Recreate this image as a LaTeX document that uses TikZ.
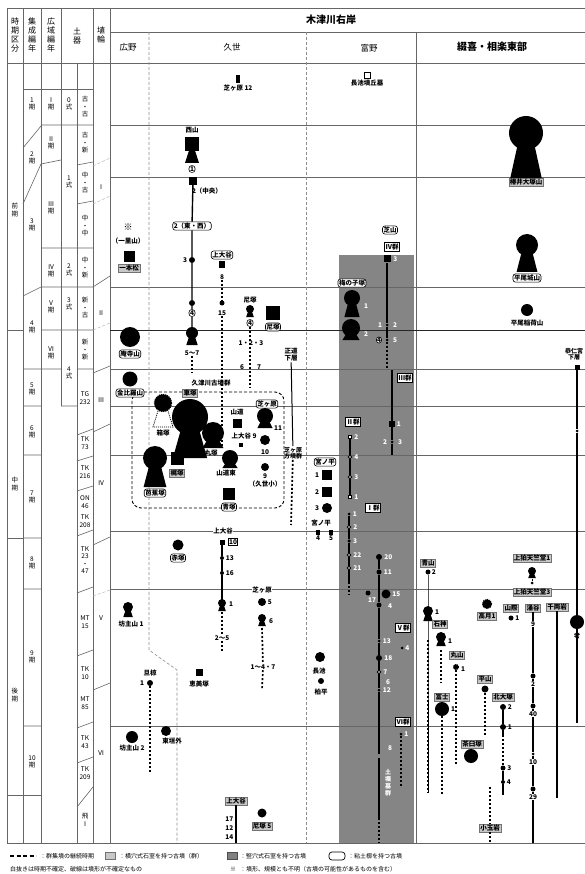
\documentclass[tikz,border=0pt]{standalone}
\usepackage{fontspec}
\setmainfont{Noto Sans CJK JP}
\usetikzlibrary{positioning}

\begin{document}
\begin{tikzpicture}[x=1pt, y=-1pt,
    rule/.style={draw=black!60, line width=0.6pt},
    era/.style={draw=black!85, line width=1pt},
    border/.style={draw=black!45, line width=0.6pt, dash pattern=on 3pt off 2pt},
    soft/.style={draw=black!30, line width=0.5pt, dash pattern=on 3pt off 2pt},
    grp/.style={line width=0.9pt, dash pattern=on 3pt off 2pt, rounded corners=9pt},
    head/.style={font=\fontsize{8.5}{9}\selectfont, inner sep=0pt},
    bighead/.style={font=\fontsize{10}{11}\selectfont\bfseries, inner sep=0pt},
    hdv/.style={font=\fontsize{8}{9}\selectfont, align=center, inner sep=0pt},
    vtext/.style={font=\fontsize{6.5}{7.5}\selectfont, align=center, inner sep=0pt},
    lbl/.style={font=\fontsize{6.5}{7}\selectfont\bfseries, inner sep=0.5pt},
    wlbl/.style={lbl, text=white},
    note/.style={font=\fontsize{6}{7}\selectfont, inner sep=0pt, anchor=west},
    clay/.style={lbl, draw, rounded corners=2.5pt, fill=white, inner sep=1pt, line width=0.6pt},
    yoko/.style={lbl, draw=black!55, fill=black!22, inner sep=1pt},
    gun/.style={lbl, draw, fill=white, line width=0.8pt, inner sep=1.2pt},
    enpun/.style={circle, fill, inner sep=0pt, minimum size=#1},
    enpun/.default=4pt,
    hofun/.style={rectangle, fill, inner sep=0pt, minimum size=#1},
    hofun/.default=4pt,
    oen/.style={circle, draw, fill=white, inner sep=0pt, minimum size=3.5pt, line width=0.8pt},
    oho/.style={rectangle, draw, fill=white, inner sep=0pt, minimum size=3.5pt, line width=0.8pt},
    fuzzy/.style={circle, fill, draw, line width=1.2pt, dash pattern=on 1.2pt off 0.8pt, inner sep=0pt, minimum size=#1},
    seq/.style={line width=1.4pt},
    gap/.style={line width=1.7pt, dash pattern=on 2pt off 2pt},
    pics/zenpo/.style 2 args={code={
        \fill (0,0) circle[radius=#1];
        \fill (-0.45*#1,0.5*#1) -- (0.45*#1,0.5*#1) -- (0.95*#1,#2) -- (-0.95*#1,#2) -- cycle;
    }},
    pics/zenpoho/.style 2 args={code={
        \fill (-#1,-#1) rectangle (#1,#1);
        \fill (-0.45*#1,#1) -- (0.45*#1,#1) -- (#1,#2) -- (-#1,#2) -- cycle;
    }}
]
\useasboundingbox (0,0) rectangle (585,874);

% Stone chamber band (Tonosho)
\fill[black!48] (339,255) rectangle (414,843);

% Frame and rules
\draw[rule] (7,8) -- (585,8) (110,32) -- (585,32) (7,63) -- (585,63) (7,843) -- (585,843);
\draw[rule] (7,8) -- (7,843) (23,8) -- (23,843) (41,8) -- (41,843) (61,8) -- (61,406) (77,63) -- (77,843)
  (93,8) -- (93,843) (110,8) -- (110,843) (416,32) -- (416,843);
\draw[rule] (110,125) -- (585,125) (110,177) -- (585,177) (110,287) -- (585,287) (110,369) -- (585,369)
  (110,406) -- (585,406) (110,455) -- (585,455) (110,531) -- (585,531) (110,589) -- (585,589) (110,726) -- (585,726);
\draw[era] (110,330) -- (585,330);

% Period cells
\draw[rule] (23,89) -- (93,89) (7,330) -- (23,330) (7,538) -- (23,538) (7,795) -- (41,795);
\draw[rule] (23,148) -- (41,126) (23,204) -- (41,164) (23,296) -- (41,287) (23,369) -- (41,369) (23,406) -- (41,406)
  (23,455) -- (41,455) (23,538) -- (41,538) (23,589) -- (41,589) (23,726) -- (41,726);
\draw[rule] (41,125) -- (93,125) (41,164) -- (61,160) (77,165) -- (93,162) (77,204) -- (93,201) (41,248) -- (93,248)
  (41,287) -- (93,287) (41,330) -- (93,330) (41,369) -- (61,369) (77,369) -- (93,369) (61,406) -- (77,406);
\draw[rule] (77,435) -- (93,429) (77,461) -- (93,456) (77,491) -- (93,486) (77,536) -- (93,530) (77,593) -- (93,587)
  (77,656) -- (93,650) (77,728) -- (93,722) (77,763) -- (93,757) (77,807) -- (93,787);
\draw[rule] (93,287) -- (110,276) (93,373) -- (110,366) (93,432) -- (110,424) (93,545) -- (110,537) (93,690) -- (110,683);
\draw[soft] (93,166) -- (110,158) (93,204) -- (110,196) (93,330) -- (110,323) (93,596) -- (110,590);

% Area borders
\draw[border] (149,32) -- (149,650) -- (177,670) -- (177,843);
\draw[border] (306,32) -- (306,843);

% Headers
\node[hdv] (hdjiki) at (15,35) {時\\期\\区\\分};
\node[hdv] (hdshusei) at (32,35) {集\\成\\編\\年};
\node[hdv] (hdkoiki) at (51,35) {広\\域\\編\\年};
\node[hdv] (hddoki) at (77,36) {土\\器};
\node[hdv] (hdhaniwa) at (101,35) {埴\\輪};
\node[bighead] (kizu) at (331,20) {木津川右岸};
\node[head] (hirono) at (128,47) {広野};
\node[head] (kuze) at (232,47) {久世};
\node[head] (tonosho) at (369,48) {富野};
\node[bighead] (tsuzuki) at (492,47) {綴喜・相楽東部};

% Period labels
\node[vtext] (zenki) at (15,210) {前\\期};
\node[vtext] (chuki) at (15,484) {中\\期};
\node[vtext] (koki) at (15,695) {後\\期};
\node[vtext] (s1) at (32,104) {1\\期};
\node[vtext] (s2) at (32,158) {2\\期};
\node[vtext] (s3) at (32,225) {3\\期};
\node[vtext] (s4) at (32,327) {4\\期};
\node[vtext] (s5) at (32,389) {5\\期};
\node[vtext] (s6) at (32,432) {6\\期};
\node[vtext] (s7) at (32,497) {7\\期};
\node[vtext] (s8) at (32,563) {8\\期};
\node[vtext] (s9) at (32,657) {9\\期};
\node[vtext] (s10) at (32,762) {10\\期};
\node[vtext] (k1) at (51,104) {Ⅰ\\期};
\node[vtext] (k2) at (51,143) {Ⅱ\\期};
\node[vtext] (k3) at (51,208) {Ⅲ\\期};
\node[vtext] (k4) at (51,271) {Ⅳ\\期};
\node[vtext] (k5) at (51,307) {Ⅴ\\期};
\node[vtext] (k6) at (51,353) {Ⅵ\\期};
\node[vtext] (d0) at (69,104) {0\\式};
\node[vtext] (d1) at (69,182) {1\\式};
\node[vtext] (d2) at (69,270) {2\\式};
\node[vtext] (d3) at (69,304) {3\\式};
\node[vtext] (d4) at (69,373) {4\\式};
\node[vtext] (fk) at (85,107) {古\\・\\古};
\node[vtext] (fs) at (85,143) {古\\・\\新};
\node[vtext] (nf) at (85,183) {中\\・\\古};
\node[vtext] (nn) at (85,226) {中\\・\\中};
\node[vtext] (ns) at (85,268) {中\\・\\新};
\node[vtext] (sf) at (85,308) {新\\・\\古};
\node[vtext] (ss) at (85,350) {新\\・\\新};
\node[vtext] (tg232) at (85,398) {TG\\232};
\node[vtext] (tk73) at (85,443) {TK\\73};
\node[vtext] (tk216) at (85,472) {TK\\216};
\node[vtext] (on46) at (85,502) {ON\\46};
\node[vtext] (tk208) at (85,521) {TK\\208};
\node[vtext] (tk23) at (85,560) {TK\\23\\・\\47};
\node[vtext] (mt15) at (85,622) {MT\\15};
\node[vtext] (tk10) at (85,673) {TK\\10};
\node[vtext] (mt85) at (85,703) {MT\\85};
\node[vtext] (tk43) at (85,742) {TK\\43};
\node[vtext] (tk209) at (85,773) {TK\\209};
\node[vtext] (asuka) at (85,820) {飛\\Ⅰ};
\node[vtext] (h1) at (101,187) {Ⅰ};
\node[vtext] (h2) at (101,313) {Ⅱ};
\node[vtext] (h3) at (101,400) {Ⅲ};
\node[vtext] (h4) at (101,483) {Ⅳ};
\node[vtext] (h5) at (101,618) {Ⅴ};
\node[vtext] (h6) at (101,753) {Ⅵ};

% Hirono
\node[lbl, font=\fontsize{9}{9}\selectfont] (kome) at (128,227) {※};
\node[lbl] (ichiri) at (128,241) {（一里山）};
\node[hofun=11pt] (ippon) at (129,257) {};
\node[yoko] (ipponn) at (129,268) {一本松};
\node[enpun=20pt] (anji) at (130,337) {};
\node[clay] (anjin) at (130,354) {庵寺山};
\node[enpun=15pt] (kanpira) at (130,379) {};
\coordinate (bozu1) at (128,607);
\pic at (bozu1) {zenpo={5}{10}};
\node[lbl] (bozu1n) at (131,624) {坊主山 1};
\node[lbl] (akumu) at (150,673) {旦椋};
\node[enpun=6pt] (akumu1) at (150,683) {};
\node[lbl, left=2pt of akumu1] (akumu1n) {1};
\coordinate (akumuend) at (150,772);
\node[enpun=12pt] (bozu2) at (132,737) {};
\node[lbl] (bozu2n) at (132,748) {坊主山 2};
\node[enpun=10pt] (higashi) at (166,731) {};
\node[lbl] (higashin) at (172,741) {東垣外};

% Kuze
\node[hofun, minimum width=4pt, minimum height=8pt] (shiba12) at (238,79) {};
\node[lbl, below=1pt of shiba12] (shiba12n) {芝ヶ原 12};
\node[lbl] (nishiyama) at (192,130) {西山};
\coordinate (nishiyamak) at (192,144);
\pic at (nishiyamak) {zenpoho={7}{19}};
\node[clay] (ks1) at (192,169) {1};
\node[hofun, minimum width=8pt, minimum height=8pt] (ks2) at (193,181) {};
\node[lbl] (ks2n) at (207,191) {2（中央）};
\node[clay] (ks2ew) at (192,226) {2（東・西）};
\node[enpun=6pt] (ks3) at (192,260) {};
\node[lbl, left=1pt of ks3] (ks3n) {3};
\node[enpun=6pt] (ks4) at (192,303) {};
\node[clay] (ks4n) at (192,313) {4};
\coordinate (ks57) at (192,333);
\pic at (ks57) {zenpo={6}{12}};
\node[lbl] (ks57n) at (192,353) {5～7};
\coordinate (ks57end) at (192,373);
\node[clay] (kamio) at (222,255) {上大谷};
\node[hofun, minimum width=6pt, minimum height=7pt] (kamio8) at (222,265) {};
\node[lbl] (kamio8n) at (222,277) {8};
\node[enpun=5pt] (kamio15) at (222,303) {};
\node[lbl] (kamio15n) at (222,313) {15};
\coordinate (kamio15end) at (222,447);
\node[lbl] (amazuka) at (250,300) {尼塚};
\coordinate (ama4) at (250,309);
\pic at (ama4) {zenpo={4}{8}};
\node[clay] (ama4n) at (250,323) {4};
\coordinate (amaend) at (250,387);
\node[hofun=14pt] (amasq) at (273,313) {};
\node[clay] (amasqn) at (273,327) {尼塚};
\node[lbl] (ama123) at (251,343) {1・2・3};
\node[lbl] (ama6) at (242,367) {6};
\node[lbl] (ama7) at (259,367) {7};
\node[lbl, align=center] (shodo) at (291,355) {正道\\下層};
\node[lbl, align=center, font=\fontsize{6}{6.5}\selectfont\bfseries] (shibaho) at (293,453) {芝ヶ原\\方墳群};
\coordinate (shodoend) at (291,525);

% Kutsukawa group
\draw[grp] (132,392) rectangle (284,508);
\node[clay] (kanpiran) at (130,393) {金比羅山};
\node[lbl] (kutsu) at (211,383) {久津川古墳群};
\node[yoko] (kurumazukan) at (190,393) {車塚};
\node[fuzzy=17pt] (hakozuka) at (163,403) {};
\draw[line width=0.8pt, dash pattern=on 1pt off 1pt] (158,411) -- (153,427) -- (173,427) -- (168,411);
\node[lbl] (hakozukan) at (163,433) {箱塚};
\coordinate (kurumazuka) at (190,417);
\pic at (kurumazuka) {zenpo={18}{41}};
\coordinate (maruzuka) at (213,433);
\pic at (maruzuka) {zenpo={11}{15}};
\node[lbl] (maruzukan) at (211,453) {丸塚};
\node[lbl] (sando) at (237,412) {山道};
\node[hofun=9pt] (sandosq) at (237,423) {};
\node[lbl] (kamio9) at (244,436) {上大谷 9};
\node[hofun=4pt] (kamio9sq) at (241,445) {};
\node[clay] (shibagahara) at (267,404) {芝ヶ原};
\coordinate (shiba11) at (265,416);
\pic at (shiba11) {zenpo={8}{12}};
\node[lbl] (shiba11n) at (278,428) {11};
\node[enpun=10pt] (shiba10) at (265,440) {};
\node[lbl] (shiba10n) at (265,452) {10};
\coordinate (sandohigashi) at (230,458);
\pic at (sandohigashi) {zenpo={8}{10}};
\node[lbl] (sandohigashin) at (226,473) {山道東};
\node[enpun=8pt] (shiba9) at (265,467) {};
\node[lbl] (shiba9n) at (265,476) {9};
\node[lbl] (kuzesho) at (265,484) {（久世小）};
\node[hofun=13pt] (kajizuka) at (177,458) {};
\node[yoko] (kajizukan) at (177,473) {梶塚};
\coordinate (bashozuka) at (155,458);
\pic at (bashozuka) {zenpo={12}{29}};
\node[clay] (bashozukan) at (155,493) {芭蕉塚};
\node[hofun=12pt] (aozuka) at (229,494) {};
\node[clay] (aozukan) at (229,507) {青塚};

% Kuze, late periods
\node[enpun=11pt] (akazuka) at (178,545) {};
\node[clay] (akazukan) at (178,558) {赤塚};
\node[lbl, fill=white] (kamiob) at (223,531) {上大谷};
\node[hofun=5pt] (kamio10) at (222,542) {};
\node[gun, inner sep=0.8pt] (kamio10n) at (233,542) {10};
\node[enpun=4pt] (kamio13) at (222,558) {};
\node[lbl, right=1pt of kamio13] (kamio13n) {13};
\node[enpun=4pt] (kamio16) at (222,573) {};
\node[lbl, right=1pt of kamio16] (kamio16n) {16};
\coordinate (kamio1) at (222,603);
\pic at (kamio1) {zenpo={4}{8}};
\node[lbl] (kamio1n) at (231,604) {1};
\node[lbl] (kamio25) at (222,638) {2～5};
\coordinate (kamio25end) at (222,652);
\node[lbl, fill=white] (shibac) at (262,590) {芝ヶ原};
\node[enpun=8pt] (shiba5) at (262,602) {};
\node[lbl, right=1pt of shiba5] (shiba5n) {5};
\coordinate (shiba6) at (262,618);
\pic at (shiba6) {zenpo={4}{8}};
\node[lbl] (shiba6n) at (271,621) {6};
\node[lbl] (shiba147) at (263,667) {1～4・7};
\coordinate (shiba6end) at (262,690);
\node[hofun=7pt] (emizuka) at (199,672) {};
\node[lbl] (emizukan) at (199,684) {恵美塚};
\node[yoko] (kamioc) at (236,801) {上大谷};
\coordinate (kamiocend) at (236,843);
\node[lbl, anchor=east] (kamio17) at (234,819) {17};
\node[lbl, anchor=east] (kamio12) at (234,828) {12};
\node[lbl, anchor=east] (kamio14) at (234,837) {14};
\node[enpun=9pt] (ama5) at (262,813) {};
\node[yoko] (ama5n) at (262,826) {尼塚 5};

% Tonosho
\node[oho, minimum size=6pt] (nagaikeb) at (367,75) {};
\node[lbl, below=1pt of nagaikeb] (nagaikebn) {長池墳丘墓};
\node[clay] (shibayama) at (390,230) {芝山};
\node[gun] (g4) at (392,247) {Ⅳ群};
\node[hofun=7pt] (g4a) at (387,259) {};
\node[wlbl, right=2pt of g4a] (g4an) {3};
\node[enpun=3pt] (g4b) at (387,325) {};
\node[wlbl] (g4b1) at (380,325) {1};
\node[wlbl] (g4b2) at (395,325) {2};
\node[enpun=3pt] (g4c) at (387,340) {};
\node[clay, inner sep=0.6pt] (g4c4) at (379,340) {4};
\node[wlbl] (g4c5) at (395,340) {5};
\coordinate (g4end) at (387,368);
\node[clay] (umenoko) at (352,283) {梅の子塚};
\coordinate (ume1) at (352,298);
\pic at (ume1) {zenpo={8}{19}};
\node[wlbl] (ume1n) at (366,306) {1};
\coordinate (ume2) at (351,328);
\pic at (ume2) {zenpo={9}{12}};
\node[wlbl] (ume2n) at (366,334) {2};
\node[gun] (g3) at (405,378) {Ⅲ群};
\coordinate (g3top) at (392,370);
\node[hofun=6pt] (g3a) at (392,424) {};
\node[wlbl, right=1pt of g3a] (g3an) {1};
\node[enpun=3pt] (g3b) at (392,442) {};
\node[wlbl] (g3b2) at (385,442) {2};
\node[wlbl] (g3b3) at (400,442) {3};
\coordinate (g3end) at (392,455);
\node[gun] (g2) at (353,422) {Ⅱ群};
\node[oho] (g2a) at (350,437) {};
\node[wlbl, right=1.5pt of g2a] (g2an) {2};
\node[oen] (g2b) at (350,457) {};
\node[wlbl, right=1.5pt of g2b] (g2bn) {4};
\node[oen] (g2c) at (350,477) {};
\node[wlbl, right=1.5pt of g2c] (g2cn) {3};
\node[oho] (g2d) at (350,497) {};
\node[wlbl, right=1.5pt of g2d] (g2dn) {1};
\node[clay] (miyanohira) at (325,462) {宮ノ平};
\node[hofun=10pt] (mh1) at (327,475) {};
\node[lbl] (mh1n) at (317,475) {1};
\node[hofun=10pt] (mh2) at (327,492) {};
\node[lbl] (mh2n) at (317,492) {2};
\node[enpun=10pt] (mh3) at (327,508) {};
\node[lbl] (mh3n) at (317,508) {3};
\node[lbl] (miyanohirab) at (321,523) {宮ノ平};
\node[hofun, minimum width=4pt, minimum height=5pt] (mh4) at (318,532) {};
\node[lbl, below=0pt of mh4] (mh4n) {4};
\node[hofun, minimum width=4pt, minimum height=5pt] (mh5) at (331,532) {};
\node[lbl, below=0pt of mh5] (mh5n) {5};
\node[gun] (g1) at (373,508) {Ⅰ群};
\node[enpun=3pt] (g1a) at (349,514) {};
\node[wlbl, right=1.5pt of g1a] (g1an) {1};
\node[oen] (g1b) at (349,527) {};
\node[wlbl, right=1.5pt of g1b] (g1bn) {2};
\node[enpun=3.5pt] (g1c) at (349,541) {};
\node[wlbl, right=1.5pt of g1c] (g1cn) {3};
\node[oen] (g1d) at (349,555) {};
\node[wlbl, right=1.5pt of g1d] (g1dn) {22};
\node[oen] (g1e) at (349,568) {};
\node[wlbl, right=1.5pt of g1e] (g1en) {21};
\coordinate (g1f) at (349,582);
\coordinate (g1end) at (349,595);
\node[enpun=6pt] (t20) at (379,557) {};
\node[wlbl, right=1.5pt of t20] (t20n) {20};
\node[enpun=5pt] (t11) at (379,572) {};
\node[wlbl, right=1.5pt of t11] (t11n) {11};
\node[enpun=9pt] (t15) at (386,594) {};
\node[wlbl, right=1pt of t15] (t15n) {15};
\node[enpun=5pt] (t17) at (368,593) {};
\node[wlbl] (t17n) at (372,600) {17};
\node[enpun=5pt] (t4) at (379,605) {};
\node[wlbl] (t4n) at (390,606) {4};
\node[gun] (g5) at (403,628) {Ⅴ群};
\node[enpun=3pt] (t13) at (379,641) {};
\node[wlbl, right=1.5pt of t13] (t13n) {13};
\node[enpun=3pt] (t4b) at (402,648) {};
\node[wlbl, right=1pt of t4b] (t4bn) {4};
\node[enpun=6pt] (t18) at (379,658) {};
\node[wlbl, right=1.5pt of t18] (t18n) {18};
\node[oen] (t7) at (379,672) {};
\node[wlbl, right=1.5pt of t7] (t7n) {7};
\node[wlbl] (t6n) at (388,682) {6};
\node[enpun=3pt] (t12) at (379,690) {};
\node[wlbl, right=1.5pt of t12] (t12n) {12};
\coordinate (tend) at (379,754);
\node[gun] (g6) at (403,722) {Ⅵ群};
\node[enpun=3pt] (t61) at (401,734) {};
\node[wlbl, right=1pt of t61] (t61n) {1};
\node[wlbl] (t68) at (390,748) {8};
\coordinate (t6end) at (401,787);
\coordinate (dokotop) at (379,758);
\coordinate (dokomid) at (379,818);
\coordinate (dokoend) at (379,843);
\node[wlbl, align=center, font=\fontsize{6}{7}\selectfont\bfseries] (doko) at (388,783) {土\\壙\\墓\\群};
\node[enpun=10pt] (nagaike) at (320,657) {};
\node[lbl] (nagaiken) at (319,671) {長池};
\node[enpun=6pt] (kashiwa) at (321,681) {};
\node[lbl] (kashiwan) at (321,692) {柏平};

% Tsuzuki and east Soraku
\coordinate (tsubai) at (526,133);
\pic at (tsubai) {zenpo={17}{47}};
\node[yoko] (tsubain) at (526,182) {椿井大塚山};
\coordinate (hiraojo) at (527,245);
\pic at (hiraojo) {zenpo={11}{27}};
\node[clay] (hiraojon) at (527,278) {平尾城山};
\node[enpun=12pt] (inariyama) at (527,310) {};
\node[lbl] (inariyaman) at (527,323) {平尾稲荷山};
\node[lbl, align=center, font=\fontsize{6}{6.5}\selectfont\bfseries] (kuni) at (574,354) {恭仁宮\\下層};
\node[hofun=5pt] (kuni1) at (577,367) {};
\node[enpun=3pt] (kuni2) at (577,431) {};
\node[enpun=14pt] (kuni3) at (577,622) {};
\node[lbl] (kuni3n) at (577,636) {考};
\coordinate (kuniend) at (577,723);
\node[yoko] (aoyama) at (428,563) {青山};
\node[enpun=5pt] (aoyama2) at (428,572) {};
\node[lbl, right=0.5pt of aoyama2] (aoyama2n) {2};
\coordinate (aoyama1) at (428,611);
\pic at (aoyama1) {zenpo={5}{10}};
\node[lbl] (aoyama1n) at (437,612) {1};
\coordinate (aoyamadot) at (428,640);
\coordinate (aoyamaend) at (428,793);
\node[yoko] (tenjiku1) at (532,558) {上狛天竺堂1};
\coordinate (tenjikuk) at (532,571);
\pic at (tenjikuk) {zenpo={4}{7}};
\node[enpun=3pt] (tenjikud) at (532,583) {};
\node[yoko] (tenjiku3) at (532,592) {上狛天竺堂3};
\node[fuzzy=9pt] (takatsuki) at (487,604) {};
\node[yoko] (takatsukin) at (487,616) {高月1};
\node[yoko] (yamagiwa) at (511,608) {山際};
\node[enpun=5pt] (yamagiwa1) at (511,618) {};
\node[lbl, right=1pt of yamagiwa1] (yamagiwa1n) {1};
\node[yoko] (wakudani) at (533,608) {涌谷};
\node[lbl, fill=white, inner sep=0.3pt] (waku9) at (533,624) {9};
\node[enpun=5pt] (waku2) at (533,676) {};
\node[lbl, fill=white, inner sep=0.3pt] (waku2n) at (533,684) {2};
\node[enpun=5pt] (waku40) at (533,706) {};
\node[lbl, fill=white, inner sep=0.3pt] (waku40n) at (533,714) {40};
\node[enpun=3pt] (waku10) at (533,754) {};
\node[lbl, fill=white, inner sep=0.3pt] (waku10n) at (533,762) {10};
\node[enpun=5pt] (waku29) at (533,789) {};
\node[lbl, fill=white, inner sep=0.3pt] (waku29n) at (533,797) {29};
\coordinate (wakuend) at (533,843);
\node[yoko] (senryo) at (557,607) {千両岩};
\coordinate (senryoend) at (557,798);
\node[yoko] (ishigami) at (440,624) {石神};
\coordinate (ishigamik) at (441,637);
\pic at (ishigamik) {zenpo={5}{9}};
\node[lbl] (ishigamin) at (450,641) {1};
\coordinate (ishigamitop) at (441,650);
\coordinate (ishigamiend) at (441,683);
\node[yoko] (maruyama) at (457,655) {丸山};
\node[fuzzy=5pt] (maruyama1) at (456,667) {};
\node[lbl] (maruyaman) at (463,669) {1};
\coordinate (maruyamaend) at (456,765);
\node[yoko] (hirayama) at (485,679) {平山};
\node[enpun=7pt] (hirayama1) at (485,689) {};
\coordinate (hirayamaend) at (485,735);
\node[yoko] (kitaotsuka) at (503,697) {北大塚};
\node[enpun=6pt] (kita2) at (503,707) {};
\node[lbl, right=1pt of kita2] (kita2n) {2};
\node[enpun=6pt] (kita1) at (503,727) {};
\node[lbl, right=1pt of kita1] (kita1n) {1};
\coordinate (kitamid) at (503,735);
\node[enpun=5pt] (kita3) at (503,768) {};
\node[lbl, right=1pt of kita3] (kita3n) {3};
\node[enpun=4pt] (kita4) at (503,782) {};
\node[lbl, right=1pt of kita4] (kita4n) {4};
\coordinate (kitaend) at (503,795);
\node[yoko] (fuji) at (442,697) {冨士};
\node[enpun=14pt] (fuji1) at (442,709) {};
\node[lbl] (fuji1n) at (453,709) {1};
\coordinate (fujiend) at (442,795);
\node[yoko] (chausu) at (472,744) {茶臼塚};
\node[enpun=14pt] (chausu1) at (471,756) {};
\coordinate (kodamatop) at (490,787);
\node[yoko] (kodama) at (490,828) {小玉岩};
\coordinate (kodamaend) at (490,843);

% Sequences
\draw[seq] (ks2) -- (ks2ew) -- (ks3) -- (ks4) -- (ks4n) -- (ks57);
\draw[gap] (ks57n) -- (ks57end);
\draw[gap] (kamio8n) -- (kamio15) (kamio15n) -- (kamio15end);
\draw[gap] (ama4n) -- (amaend);
\draw[seq, line width=1pt] (shodo) -- (shibaho);
\draw[gap] (shibaho) -- (shodoend);
\draw[seq] (kamio10) -- (kamio13) -- (kamio16) -- (kamio1);
\draw[gap] (kamio1) ++(0,9) coordinate (kamio1b) -- (kamio25);
\draw[gap] (kamio25) -- (kamio25end);
\draw[gap] (shiba6) ++(0,10) coordinate (shiba6b) -- (shiba147) (shiba147) -- (shiba6end);
\draw[seq] (kamioc) -- (kamiocend);
\draw[gap] (akumu1) -- (akumuend);
\draw[seq] (g4a) -- (g4b) -- (g4c);
\draw[gap] (g4c) -- (g4end);
\draw[seq, line width=1.1pt] (g3top) -- (g3a) -- (g3b) -- (g3end);
\draw[seq] (g2a) -- (g2b) -- (g2c) -- (g2d);
\draw[seq] (g1a) -- (g1b) -- (g1c) -- (g1d) -- (g1e) -- (g1f);
\draw[gap] (g1f) -- (g1end);
\draw[seq] (t20) -- (t11) -- (t4) -- (t13) -- (t18) -- (t7) -- (t12) -- (tend);
\draw[gap] (t61) -- (t6end);
\draw[seq] (dokotop) -- (dokomid);
\draw[gap] (dokomid) -- (dokoend);
\draw[seq, line width=1.1pt] (kuni1) -- (kuni2) -- (kuni3) -- (kuniend);
\draw[seq, line width=0.9pt] (aoyama2) -- (aoyama1) -- (aoyamaend);
\draw[gap] (aoyamadot) -- (aoyamaend);
\draw[gap, line width=1pt] (tenjikuk) -- (tenjikud);
\draw[seq, line width=1.1pt] (wakudani) -- (waku9) -- (waku2) -- (waku2n) -- (waku40) -- (waku40n) -- (waku10) -- (waku10n) -- (waku29) -- (waku29n) -- (wakuend);
\draw[seq, line width=1.1pt] (senryo) -- (senryoend);
\draw[gap] (ishigamitop) -- (ishigamiend);
\draw[gap] (maruyama1) -- (maruyamaend);
\draw[gap] (hirayama1) -- (hirayamaend);
\draw[seq] (kita2) -- (kita1) -- (kitamid);
\draw[gap] (kitamid) -- (kita3);
\draw[seq] (kita3) -- (kita4) -- (kitaend);
\draw[gap] (fuji1) -- (fujiend);
\draw[gap] (kodamatop) -- (kodama) (kodama) -- (kodamaend);

% Legend
\coordinate (lga) at (10,856);
\coordinate (lgb) at (36,856);
\draw[line width=1.3pt, dash pattern=on 4pt off 2.5pt] (lga) -- (lgb);
\node[note] (lgt1) at (40,856) {：群集墳の継続時期};
\node[draw=black!55, fill=black!22, minimum width=10pt, minimum height=7pt, inner sep=0pt] (lgyoko) at (110,856) {};
\node[note] (lgt2) at (119,856) {：横穴式石室を持つ古墳（群）};
\node[draw=black!70, fill=black!50, minimum width=10pt, minimum height=7pt, inner sep=0pt] (lgtate) at (232,856) {};
\node[note] (lgt3) at (240,856) {：竪穴式石室を持つ古墳};
\node[draw, rounded corners=3pt, line width=0.7pt, minimum width=16pt, minimum height=8pt, inner sep=0pt] (lgclay) at (337,856) {};
\node[note] (lgt4) at (348,856) {：粘土槨を持つ古墳};
\node[note] (lgt5) at (10,869) {白抜きは時期不確定、破線は墳形が不確定なもの};
\node[note] (lgt6) at (230,869) {※\hspace{4pt}：墳形、規模とも不明（古墳の可能性があるものを含む）};

\end{tikzpicture}
\end{document}
